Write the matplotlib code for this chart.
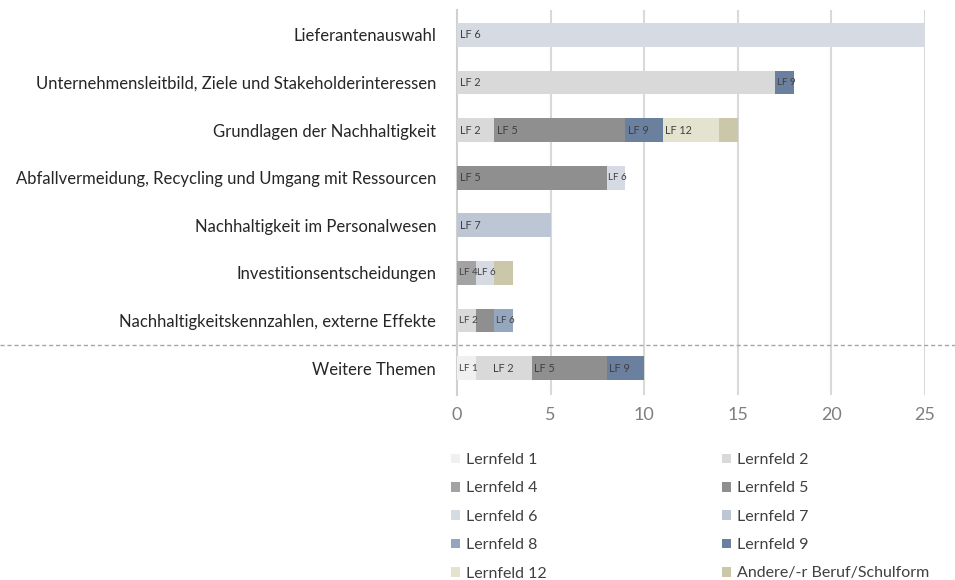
import matplotlib.pyplot as plt
import matplotlib.transforms as mtransforms
from matplotlib.patches import Patch
import numpy as np

plt.rcParams['font.family'] = ['Lato', 'DejaVu Sans']

categories = [
    "Lieferantenauswahl",
    "Unternehmensleitbild, Ziele und Stakeholderinteressen",
    "Grundlagen der Nachhaltigkeit",
    "Abfallvermeidung, Recycling und Umgang mit Ressourcen",
    "Nachhaltigkeit im Personalwesen",
    "Investitionsentscheidungen",
    "Nachhaltigkeitskennzahlen, externe Effekte",
    "Weitere Themen",
]

series_names = ["Lernfeld 1", "Lernfeld 2", "Lernfeld 4", "Lernfeld 5", "Lernfeld 6",
                "Lernfeld 7", "Lernfeld 8", "Lernfeld 9", "Lernfeld 12",
                "Andere/-r Beruf/Schulform"]
short_names = ["LF 1", "LF 2", "LF 4", "LF 5", "LF 6", "LF 7", "LF 8", "LF 9", "LF 12", ""]

lf1 = [0, 0, 0, 0, 0, 0, 0, 1]
lf2 = [0, 17, 2, 0, 0, 0, 1, 3]
lf4 = [0, 0, 0, 0, 0, 1, 0, 0]
lf5 = [0, 0, 7, 8, 0, 0, 1, 4]
lf6 = [25, 0, 0, 1, 0, 1, 0, 0]
lf7 = [0, 0, 0, 0, 5, 0, 0, 0]
lf8 = [0, 0, 0, 0, 0, 0, 1, 0]
lf9 = [0, 1, 2, 0, 0, 0, 0, 2]
lf12 = [0, 0, 3, 0, 0, 0, 0, 0]
andere = [0, 0, 1, 0, 0, 1, 0, 0]

# labels as printed in the source chart (some differ from the series)
label_override = {(6, "Lernfeld 5"): "", (6, "Lernfeld 8"): "LF 6"}
# the LF 2 label of "Weitere Themen" sits in the middle of its segment
centered_labels = {(7, "Lernfeld 2")}

colors = ["#f0f0f0", "#d9d9d9", "#a3a3a3", "#8f8f8f", "#d5dae3",
          "#bcc6d5", "#95a6bf", "#6b7f9e", "#e4e3cf", "#cac8a8"]

values = [lf1, lf2, lf4, lf5, lf6, lf7, lf8, lf9, lf12, andere]

fig = plt.figure(figsize=(9.55, 5.8), dpi=100)
ax = fig.add_axes([457 / 955, 1 - 395 / 580, (925 - 457) / 955, 385 / 580])

y = np.arange(len(categories))
left = np.zeros(len(categories))
for name, short, col, vals in zip(series_names, short_names, colors, values):
    vals = np.array(vals, dtype=float)
    ax.barh(y, vals, left=left, height=0.5, color=col, zorder=3)
    for i, v in enumerate(vals):
        if v <= 0:
            continue
        txt = label_override.get((i, name), short)
        if not txt:
            continue
        fs = 7.0 if v <= 1 else 7.8
        if (i, name) in centered_labels:
            ax.text(left[i] + v / 2, y[i], txt, ha='center', va='center',
                    fontsize=fs, color='#404040', zorder=4)
        else:
            ax.annotate(txt, (left[i], y[i]), xytext=(1.2 if v <= 1 else 1.8, 0),
                        textcoords='offset points', ha='left', va='center',
                        fontsize=fs, color='#404040', zorder=4)
    left += vals

ax.set_xlim(0, 25)
ax.set_ylim(7.567, -0.525)
ax.set_xticks([0, 5, 10, 15, 20, 25])
ax.set_yticks(y)
ax.set_yticklabels(categories, fontsize=12, color='#262626')
ax.tick_params(axis='x', labelsize=13, labelcolor='#7f7f7f', length=0, pad=9)
ax.tick_params(axis='y', length=0, pad=15)
ax.grid(axis='x', color='#d9d9d9', linewidth=1.5, zorder=0)
for s in ['top', 'right', 'bottom']:
    ax.spines[s].set_visible(False)
ax.spines['left'].set_color('#d0d0d0')
ax.spines['left'].set_linewidth(1.5)

# dashed separator across the full width
trans = mtransforms.blended_transform_factory(fig.transFigure, ax.transData)
ax.plot([0, 1], [6.52, 6.52], transform=trans, clip_on=False,
        color='#a6a6a6', linestyle=(0, (3, 2)), linewidth=1.0, zorder=5)

# legend in two columns, row order
handles = [Patch(facecolor=c, edgecolor='none', label=n) for n, c in zip(series_names, colors)]
leg_kw = dict(loc='upper left', frameon=False, fontsize=11.5, labelcolor='#404040',
              handlelength=0.55, handleheight=0.55, handletextpad=0.4,
              labelspacing=0.9, borderpad=0, borderaxespad=0)
fig.legend(handles=handles[0::2], bbox_to_anchor=(451 / 955, 1 - 453 / 580), **leg_kw)
fig.legend(handles=handles[1::2], bbox_to_anchor=(722 / 955, 1 - 453 / 580), **leg_kw)

fig.savefig("out.png", dpi=100)
